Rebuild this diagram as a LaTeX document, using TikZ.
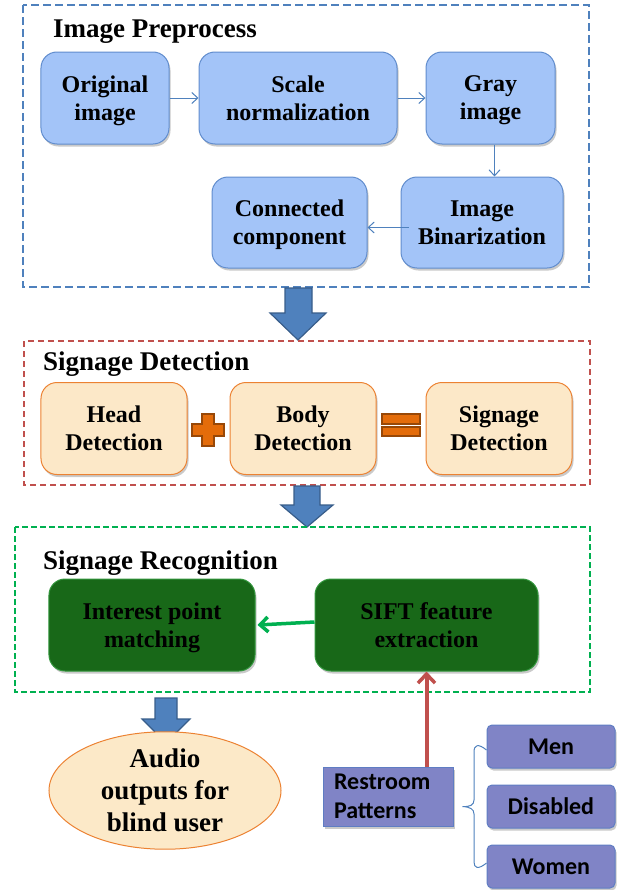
\documentclass[tikz,border=0pt]{standalone}
\usepackage{fontspec}
\setmainfont{Liberation Serif}
\newfontfamily\timesbf{Liberation Serif Bold}
\newfontfamily\calfont{Carlito}
\usetikzlibrary{shapes.geometric,shadows,arrows.meta}

\definecolor{frameblue}{RGB}{79,129,189}
\definecolor{framered}{RGB}{192,80,77}
\definecolor{framegreen}{RGB}{0,176,80}
\definecolor{boxblue}{RGB}{163,196,248}
\definecolor{edgeblue}{RGB}{96,140,205}
\definecolor{boxorange}{RGB}{252,232,200}
\definecolor{edgeorange}{RGB}{236,130,50}
\definecolor{boxgreen}{RGB}{24,104,24}
\definecolor{edgegreen}{RGB}{50,150,60}
\definecolor{boxpurple}{RGB}{128,132,198}
\definecolor{edgepurple}{RGB}{95,125,195}
\definecolor{opfill}{RGB}{228,108,10}
\definecolor{opedge}{RGB}{152,72,7}
\definecolor{bigfill}{RGB}{79,129,189}
\definecolor{bigedge}{RGB}{56,93,138}
\definecolor{ellfill}{RGB}{252,233,200}

\begin{document}
\begin{tikzpicture}[x=1bp,y=-1bp,
  shade/.style={drop shadow={shadow xshift=1.5bp,shadow yshift=-2.5bp,opacity=0.35,fill=black!60}},
  txt/.style={font=\timesbf\fontsize{24bp}{28bp}\selectfont,align=center},
  headline/.style={font=\timesbf\fontsize{27bp}{31bp}\selectfont,anchor=base west,inner sep=0pt},
  stage/.style={txt,rounded corners=16bp,minimum height=92bp,inner sep=2bp,shade},
  bluebox/.style={stage,fill=boxblue,draw=edgeblue,line width=1bp},
  orangebox/.style={stage,fill=boxorange,draw=edgeorange,line width=1bp,minimum width=146bp},
  greenbox/.style={stage,fill=boxgreen,draw=edgegreen,line width=1bp},
  tagbox/.style={font=\calfont\bfseries\fontsize{24bp}{29bp}\selectfont,fill=boxpurple,draw=edgepurple,line width=1bp,shade},
  leaf/.style={tagbox,rounded corners=5bp,minimum width=128bp,minimum height=43bp,inner sep=0pt},
  thin/.style={draw=frameblue,line width=1bp,-{Straight Barb[length=6bp,width=11bp]}},
  frame/.style={line width=2.5bp,dash pattern=on 8bp off 4bp},
  sign/.style={fill=opfill,draw=opedge,line width=2bp},
  bigarrow/.style={fill=bigfill,draw=bigedge,line width=1.2bp,line join=miter}
]
\useasboundingbox (0,0) rectangle (630,890);

% ---------- Image Preprocess ----------
\draw[frame,draw=frameblue] (23,5) rectangle (589,287);
\node[headline] (t1) at (53,37) {Image Preprocess};
\node[bluebox,minimum width=128bp] (orig) at (105,98) {Original\\\smash{image}};
\node[bluebox,minimum width=198bp] (scale) at (298,98) {Scale\\normalization};
\node[bluebox,minimum width=129bp] (gray) at (490.5,98) {Gray\\\smash{image}};
\node[bluebox,minimum width=162bp,minimum height=91bp] (bin) at (482,222.5) {Image\\Binarization};
\node[bluebox,minimum width=155bp,minimum height=91bp] (conn) at (289.5,222.5) {Connected\\\smash{component}};
\draw[thin] (orig.east) -- (scale.west);
\draw[thin] (scale.east) -- (gray.west);
\draw[thin] ([xshift=4bp]gray.south) -- ([xshift=4bp]gray.south |- bin.north);
\draw[thin] ([yshift=-5bp,xshift=8bp]bin.west) -- ([yshift=-5bp]conn.east);

% ---------- block arrow down ----------
\draw[bigarrow] (285,288) -- (312,288) -- (312,313) -- (326,313) -- (298,340)
  -- (270,313) -- (285,313) -- cycle;

% ---------- Signage Detection ----------
\draw[frame,draw=framered,line width=2bp,dash pattern=on 6bp off 4bp] (24,341) rectangle (590,485);
\node[headline] (t2) at (43,370) {Signage Detection};
\node[orangebox] (head) at (114,428.5) {Head\\Detection};
\node[orangebox] (body) at (303,428.5) {Body\\Detection};
\node[orangebox] (sig) at (499,428.5) {Signage\\Detection};
\draw[sign] (202,414) -- (214,414) -- (214,424) -- (224,424) -- (224,436) -- (214,436)
  -- (214,446) -- (202,446) -- (202,436) -- (192,436) -- (192,424) -- (202,424) -- cycle;
\draw[sign] (382,414) rectangle (420,423.5);
\draw[sign] (382,427) rectangle (420,436);

% ---------- block arrow down ----------
\draw[bigarrow] (294,486) -- (320,486) -- (320,505) -- (333,505) -- (307,527)
  -- (281,505) -- (294,505) -- cycle;

% ---------- Signage Recognition ----------
\draw[frame,draw=framegreen,dash pattern=on 6bp off 3bp] (15,527) rectangle (590,692);
\node[headline] (t3) at (43,569) {Signage Recognition};
\node[greenbox,minimum width=206bp] (match) at (152,625) {Interest point\\\smash{matching}};
\node[greenbox,minimum width=223bp] (sift) at (426.5,625) {SIFT feature\\extraction};
\draw[draw=framegreen,line width=3.5bp,-{Straight Barb[length=8bp,width=15bp,line width=3.5bp]}]
  ([yshift=3bp]sift.west) -- ([xshift=2bp]match.east);

% ---------- block arrow down ----------
\draw[bigarrow] (155,698) -- (177,698) -- (177,719) -- (190,719) -- (166,743)
  -- (142,719) -- (155,719) -- cycle;

% ---------- output ----------
\node[ellipse,fill=ellfill,draw=edgeorange,line width=1bp,minimum width=232bp,minimum height=109bp,
  inner sep=0pt,font=\timesbf\fontsize{27bp}{32bp}\selectfont,align=center] (audio) at (165,790.5)
  {Audio\\outputs for\\blind user};

% ---------- restroom patterns ----------
\node[tagbox,minimum width=130bp,minimum height=59bp,text width=108bp,align=left,inner sep=0pt] (rest) at (388,796.5)
  {Restroom\\Patterns};
\node[leaf] (men) at (551,746.5) {Men};
\node[leaf] (dis) at (551,806.5) {Disabled};
\node[leaf] (women) at (551,866.5) {Women};
\draw[draw=framered,line width=4bp,-{Straight Barb[length=9bp,width=17bp,line width=3.5bp]}]
  (sift.south |- rest.north) -- (sift.south);
\draw[draw=frameblue,line width=1bp]
  ([yshift=-3.5bp]men.west) .. controls (478,743) and (474,745) .. (474,752) -- (474,800)
  .. controls (474,805) and (470,807) .. ([xshift=9bp]rest.east |- dis.west)
  .. controls (470,807) and (474,809) .. (474,814) -- (474,862)
  .. controls (474,868) and (478,870) .. ([yshift=3.5bp]women.west);
\end{tikzpicture}
\end{document}
